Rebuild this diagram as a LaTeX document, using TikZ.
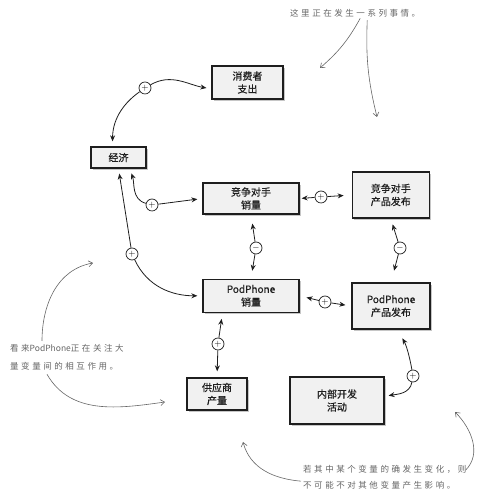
\documentclass[tikz,border=0pt]{standalone}
\usepackage{fontspec}
\newfontfamily\cjk{Noto Sans CJK SC}
\newfontfamily\cjkbox[FakeBold=0.7]{Noto Sans CJK SC}
\newfontfamily\handcjk[LetterSpace=30]{Noto Sans CJK SC}
\usepackage{xcolor}
\usepackage{tikz}
\usetikzlibrary{arrows.meta,positioning,shadows}
\definecolor{LoopInk}{HTML}{1E1E1E}
\definecolor{LoopFill}{HTML}{F1F1F1}
\definecolor{NoteInk}{HTML}{666666}
\tikzset{
  varbox/.style={draw=LoopInk,line width=1.3pt,fill=LoopFill,align=center,inner sep=2pt,text=LoopInk,font=\cjkbox\fontsize{10}{13}\selectfont,drop shadow={shadow xshift=1.8pt,shadow yshift=-1.8pt,opacity=0.45}},
  signnode/.style={circle,draw=LoopInk,line width=0.7pt,fill=white,inner sep=0pt,minimum size=12pt,font=\fontsize{9}{9}\selectfont},
  loopline/.style={-{Stealth[length=6pt,width=5pt]},line width=0.8pt,draw=LoopInk,shorten >=5pt},
  notetext/.style={text=NoteInk,align=left,inner sep=0pt,anchor=north west},
  notearrow/.style={-{Straight Barb[length=4pt,width=6pt]},line width=0.6pt,draw=NoteInk}
}

\begin{document}
\begin{tikzpicture}[x=1pt,y=1pt]
\useasboundingbox (0,0) rectangle (501,502);

% variables
\node[varbox,minimum width=71pt,minimum height=33pt] (spend) at (247.5,419.5) {消费者\\支出};
\node[varbox,minimum width=55pt,minimum height=21pt] (econ) at (118.5,344.5) {经济};
\node[varbox,minimum width=96pt,minimum height=31pt] (rsales) at (251,303.5) {竞争对手\\销量};
\node[varbox,minimum width=77pt,minimum height=46pt,right=52pt of rsales,yshift=3.5pt] (rlaunch) {竞争对手\\产品发布};
\node[varbox,minimum width=96pt,minimum height=33pt,below=64pt of rsales] (psales) {PodPhone\\销量};
\node[varbox,minimum width=78pt,minimum height=46pt] (plaunch) at (391,196) {PodPhone\\产品发布};
\node[varbox,minimum width=60pt,minimum height=32pt] (supply) at (217,108) {供应商\\产量};
\node[varbox,minimum width=94pt,minimum height=47pt] (rnd) at (337,101.5) {内部开发\\活动};

% polarity signs
\node[signnode] (s1) at (145,414) {$+$};
\node[signnode] (s2) at (152,297) {$+$};
\node[signnode] (s3) at (132,248) {$+$};
\node[signnode] (s4) at (321,305) {$+$};
\node[signnode] (s5) at (256,254) {$-$};
\node[signnode] (s6) at (400,254) {$-$};
\node[signnode] (s7) at (325,200) {$+$};
\node[signnode] (s8) at (218,158) {$+$};
\node[signnode] (s9) at (413,126) {$+$};

% links
\draw[loopline] (s1) to[out=30,in=170] (spend.190);
\draw[loopline] (s1) to[out=215,in=90] (econ.118);
\draw[loopline] (s2) to[out=165,in=-70] (econ.-45);
\draw[loopline] (s2) -- (rsales.west);
\draw[loopline] (s3) -- (econ.south);
\draw[loopline] (s3) to[out=-65,in=180] (psales.west);
\draw[loopline,shorten >=2pt] (s4) -- (rsales.east);
\draw[loopline,shorten >=8pt] (s4) -- (rlaunch.west);
\draw[loopline,shorten >=9pt] (s5) -- (rsales.south);
\draw[loopline,shorten >=8pt] (s5) -- (psales.north);
\draw[loopline,shorten >=6pt] (s6) -- (rlaunch.south);
\draw[loopline,shorten >=12pt] (s6) -- (plaunch.north);
\draw[loopline,shorten >=7pt] (s7) -- (psales.east);
\draw[loopline,shorten >=6pt] (s7) -- (plaunch.west);
\draw[loopline,shorten >=6pt] (s8) -- (psales.211);
\draw[loopline,shorten >=6pt] (s8) -- (supply.north);
\draw[loopline,shorten >=10pt] (s9) to[out=100,in=-60] (plaunch.-75);
\draw[loopline,shorten >=4pt] (s9) to[out=-100,in=10] (rnd.5);

% handwritten notes
\node[notetext,font=\handcjk\fontsize{8.5}{16}\selectfont] (topnote) at (290,493) {这里正在发生一系列事情。};
\node[notetext,font=\handcjk\fontsize{8.5}{18}\selectfont] (leftnote) at (10,158) {看来{\cjk PodPhone}正在关注大\\量变量间的相互作用。};
\node[notetext,font=\handcjk\fontsize{8.5}{16}\selectfont] (botnote) at (303,37) {若其中某个变量的确发生变化，则\\不可能不对其他变量产生影响。};

\coordinate (topA) at (320,434);
\coordinate (topB) at (377,385);
\coordinate (leftA) at (93,239);
\coordinate (leftB) at (165,100);
\coordinate (botA) at (243,60);
\coordinate (botB) at (455,90);

\draw[notearrow] ([xshift=5pt,yshift=-1pt]topnote.south) to[bend left=10] (topA);
\draw[notearrow] ([xshift=12pt,yshift=-3pt]topnote.south) to[bend right=8] (topB);
\draw[notearrow] ([xshift=32pt,yshift=3pt]leftnote.north west) to[out=90,in=190] (leftA);
\draw[notearrow] ([xshift=37pt,yshift=-4pt]leftnote.south west) to[out=-60,in=188] (leftB);
\draw[notearrow] ([xshift=-2pt,yshift=-4pt]botnote.west) to[out=175,in=-75] (botA);
\draw[notearrow] ([xshift=-1pt,yshift=7pt]botnote.east) to[out=45,in=-45] (botB);
\end{tikzpicture}
\end{document}
